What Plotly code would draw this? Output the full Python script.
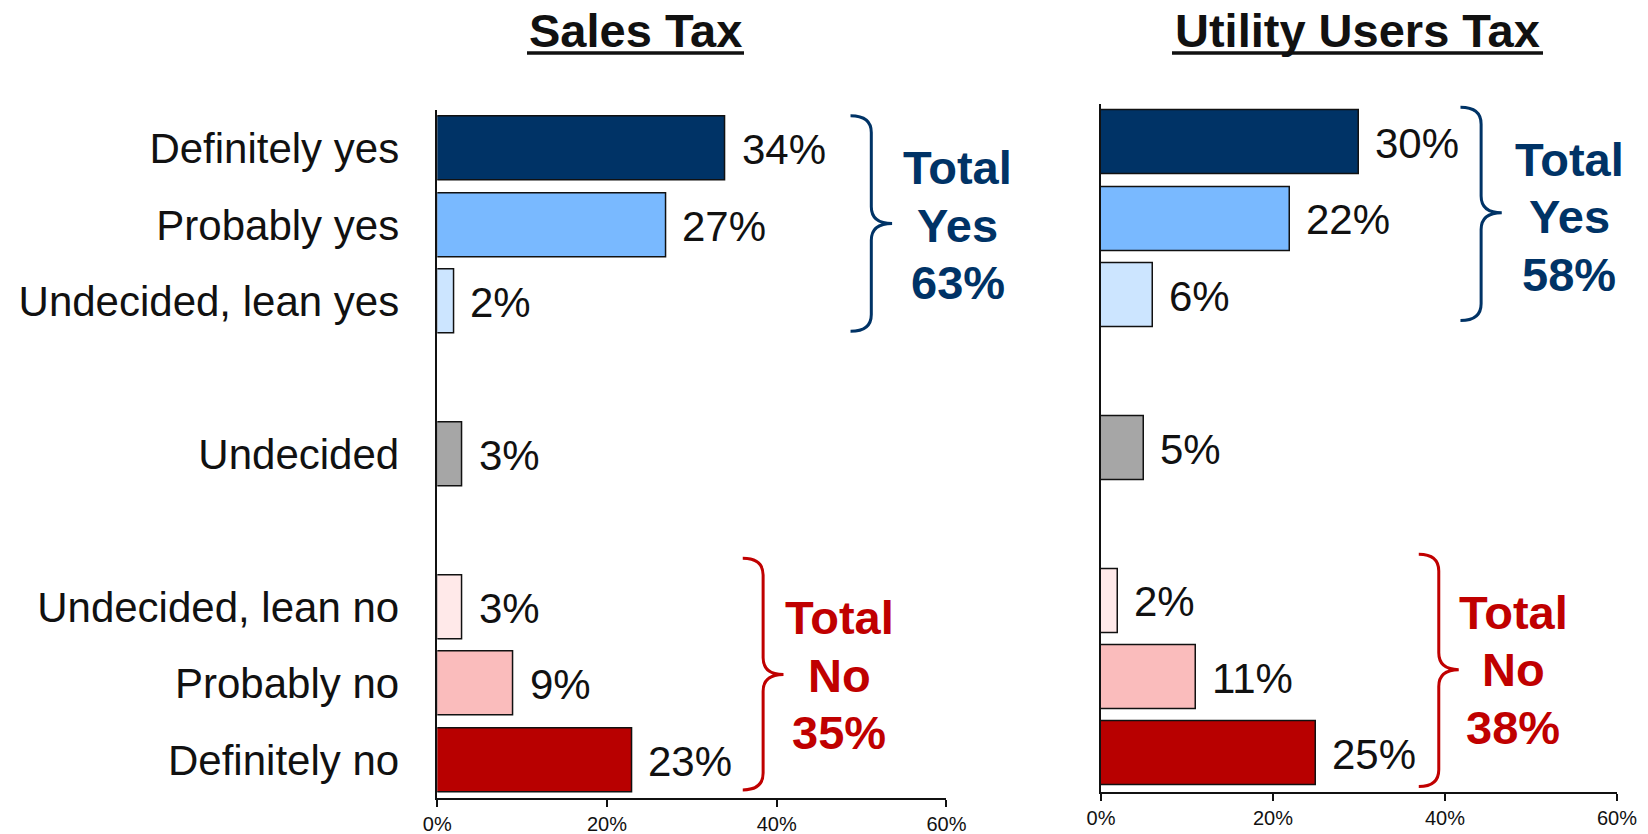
import plotly.graph_objects as go

# ---------------- data ----------------
categories = ["Definitely yes", "Probably yes", "Undecided, lean yes", "Undecided",
              "Undecided, lean no", "Probably no", "Definitely no"]
group_sizes = [3, 1, 3]          # yes-group, undecided, no-group
sales_tax = [34, 27, 2, 3, 3, 9, 23]
utility_tax = [30, 22, 6, 5, 2, 11, 25]
bar_colors = ["#003366", "#79B9FF", "#CCE5FF", "#A6A6A6", "#FFE9E9", "#FABCBC", "#B80000"]
chart_titles = ["Sales Tax", "Utility Users Tax"]
total_yes = [63, 58]
total_no = [35, 38]
x_tick_vals = [0, 20, 40, 60]
x_tick_text = ["0%", "20%", "40%", "60%"]

# ---------------- layout helpers ----------------
W, H = 1648, 834
FONT = "Liberation Sans, Arial, sans-serif"
NAVY = "#003366"
RED = "#C00000"

# slot positions with a one-slot gap between groups
positions = []
p = 0
for gi, n in enumerate(group_sizes):
    for _ in range(n):
        positions.append(p)
        p += 1
    p += 1
n_slots = positions[-1] + 1


def px(x):
    return x / W


def py(y):
    return 1 - y / H


fig = go.Figure()

panels = [
    dict(vals=sales_tax, xd=(437.3, 946.4), yd=(110.4, 798.3), xa="x", ya="y"),
    dict(vals=utility_tax, xd=(1101.0, 1617.0), yd=(104.3, 791.9), xa="x2", ya="y2"),
]

for i, pnl in enumerate(panels):
    fig.add_trace(go.Bar(
        x=pnl["vals"], y=positions, orientation="h",
        marker=dict(color=bar_colors, line=dict(color="#111111", width=1.5)),
        width=0.84, xaxis=pnl["xa"], yaxis=pnl["ya"], hoverinfo="skip",
    ))

layout_axes = {}
for i, pnl in enumerate(panels):
    sfx = "" if i == 0 else "2"
    layout_axes["xaxis" + sfx] = dict(
        domain=[px(pnl["xd"][0]), px(pnl["xd"][1])], range=[0, 60],
        anchor="y" + sfx, showgrid=False, zeroline=False,
        showline=True, linecolor="#111111", linewidth=1.5,
        tickvals=x_tick_vals, ticktext=x_tick_text, ticks="outside",
        ticklen=7, tickwidth=1.5, tickcolor="#111111",
        tickfont=dict(family=FONT, size=20, color="#111111"),
        fixedrange=True,
    )
    layout_axes["yaxis" + sfx] = dict(
        domain=[py(pnl["yd"][1]), py(pnl["yd"][0])],
        range=[n_slots - 0.5, -0.5], anchor="x" + sfx,
        showgrid=False, zeroline=False, showline=True,
        linecolor="#111111", linewidth=1.5,
        tickvals=positions, ticktext=categories, ticks="",
        showticklabels=(i == 0), ticklabelstandoff=28,
        tickfont=dict(family=FONT, size=42, color="#111111"),
        fixedrange=True,
    )

annotations = []
# value labels
for i, pnl in enumerate(panels):
    sfx = "" if i == 0 else "2"
    for v, pos in zip(pnl["vals"], positions):
        annotations.append(dict(
            x=v, y=pos, xref="x" + sfx, yref="y" + sfx, text=f"{v}%",
            showarrow=False, xanchor="left", yanchor="middle", xshift=14, yshift=-1,
            font=dict(family=FONT, size=42, color="#111111"),
        ))

# titles (underline drawn as a shape for the thicker rule)
title_x = [635.5, 1357.6]
title_ul = [(527, 744), (1172, 1543)]
for t, tx in zip(chart_titles, title_x):
    annotations.append(dict(
        x=px(tx), y=py(30), xref="paper", yref="paper",
        text=f"<b>{t}</b>", showarrow=False,
        xanchor="center", yanchor="middle",
        font=dict(family=FONT, size=47, color="#111111"),
    ))

# totals: each line placed separately (tighter line spacing than Plotly's <br>)
tot_pos = [
    (957.5, 225.0, 839.0, 675.0),
    (1569.0, 217.0, 1513.0, 669.5),
]
LINE_GAP = 57.5
for i, (yx, yy, nx, ny) in enumerate(tot_pos):
    yes_lines = ["Total", "Yes", f"{total_yes[i]}%"]
    no_lines = ["Total", "No", f"{total_no[i]}%"]
    for k, (ly, ln) in enumerate(zip(yes_lines, no_lines)):
        annotations.append(dict(
            x=px(yx), y=py(yy + (k - 1) * LINE_GAP), xref="paper", yref="paper",
            text=f"<b>{ly}</b>", showarrow=False,
            xanchor="center", yanchor="middle",
            font=dict(family=FONT, size=47, color=NAVY),
        ))
        annotations.append(dict(
            x=px(nx), y=py(ny + (k - 1) * LINE_GAP), xref="paper", yref="paper",
            text=f"<b>{ln}</b>", showarrow=False,
            xanchor="center", yanchor="middle",
            font=dict(family=FONT, size=47, color=RED),
        ))


# braces (in data coordinates of each panel)
def brace(x0, x2, yt, yb, ym, r=0.22):
    xs = x0 + 0.5 * (x2 - x0)
    return (f"M {x0},{yt} Q {xs},{yt} {xs},{yt + r} "
            f"L {xs},{ym - r} Q {xs},{ym} {x2},{ym} "
            f"Q {xs},{ym} {xs},{ym + r} "
            f"L {xs},{yb - r} Q {xs},{yb} {x0},{yb}")


shapes = [
    dict(type="path", xref="x", yref="y", path=brace(48.7, 53.6, -0.43, 2.39, 0.98),
         line=dict(color=NAVY, width=3)),
    dict(type="path", xref="x", yref="y", path=brace(36.0, 40.8, 5.36, 8.39, 6.88),
         line=dict(color=RED, width=3)),
    dict(type="path", xref="x2", yref="y2", path=brace(41.8, 46.6, -0.46, 2.33, 0.92),
         line=dict(color=NAVY, width=3)),
    dict(type="path", xref="x2", yref="y2", path=brace(36.95, 41.6, 5.39, 8.43, 6.90),
         line=dict(color=RED, width=3)),
]
for (u0, u1) in title_ul:
    shapes.append(dict(type="line", xref="paper", yref="paper",
                       x0=px(u0), x1=px(u1), y0=py(53), y1=py(53),
                       line=dict(color="#111111", width=3.5)))

fig.update_layout(
    width=W, height=H, autosize=False,
    margin=dict(l=0, r=0, t=0, b=0, pad=0, autoexpand=False),
    paper_bgcolor="white", plot_bgcolor="white", showlegend=False,
    annotations=annotations, shapes=shapes, bargap=0,
    font=dict(family=FONT, color="#111111"),
    **layout_axes,
)

post = (
    "document.body.style.margin='0';"
    "document.body.style.overflow='hidden';"
    "var gd=document.getElementById('{plot_id}');"
    "gd.style.width='1648px';gd.style.height='834px';"
    "Plotly.relayout(gd,{width:1648,height:834});"
)

fig.write_html(
    "out.html",
    config={"displayModeBar": False, "responsive": False},
    default_width="1648px",
    default_height="834px",
    post_script=post,
)
